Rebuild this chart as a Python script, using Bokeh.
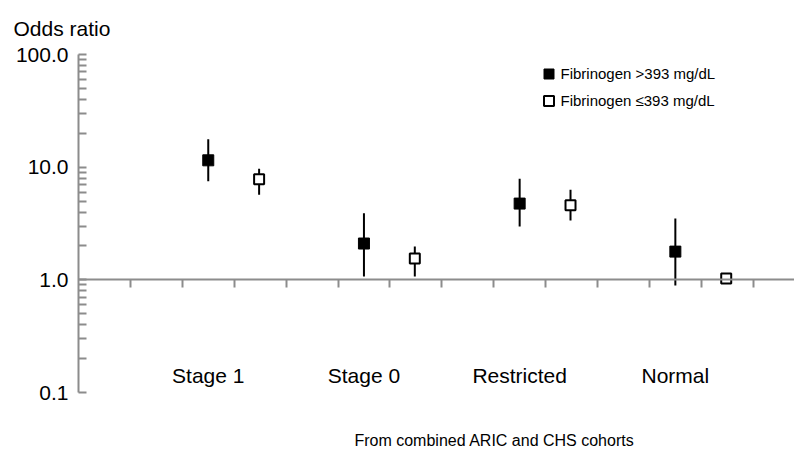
from bokeh.plotting import figure
from bokeh.models import (Range1d, FixedTicker, CustomJSTickFormatter, Label, LabelSet,
                          ColumnDataSource, Legend, LegendItem)
from bokeh.core.properties import value
from bokeh.embed import file_html
from bokeh.resources import INLINE

# ---- data ----
categories = ["Stage 1", "Stage 0", "Restricted", "Normal"]
group_pos = [2.5, 5.5, 8.5, 11.5]
dodge = 0.98

high_or = [11.5, 2.1, 4.75, 1.78]      # Fibrinogen >393 mg/dL
high_lo = [7.5, 1.07, 2.97, 0.89]
high_hi = [17.7, 3.9, 7.9, 3.5]

low_or = [7.8, 1.55, 4.6, 1.03]        # Fibrinogen <=393 mg/dL
low_lo = [5.7, 1.07, 3.36, 0.97]
low_hi = [9.7, 1.98, 6.3, 1.08]

y_ticks = [0.1, 1, 10, 100]
y_minor = [0.2, 0.3, 0.4, 0.5, 0.6, 0.7, 0.8, 0.9,
           2, 3, 4, 5, 6, 7, 8, 9,
           20, 30, 40, 50, 60, 70, 80, 90]
x_ticks = list(range(1, 14))

FONT = "Liberation Sans"
AXC = "#8c8c8c"

W, H = 794, 449
LEFT, TOP, BOTTOM = 78, 54, 392
UNIT = 51.9

# canvas pixel -> data helpers (for text placement)
def px_x(px):
    return (px - LEFT) / UNIT

def py_y(py):
    return 10 ** ((BOTTOM - py) / ((BOTTOM - TOP) / 3.0) - 1)

p = figure(width=W, height=H, x_range=Range1d(0, (W - LEFT) / UNIT), y_range=Range1d(0.1, 100),
           y_axis_type="log", output_backend="svg", toolbar_location=None,
           min_border_left=LEFT, min_border_right=0, min_border_top=TOP,
           min_border_bottom=H - BOTTOM)
p.outline_line_color = None
p.xgrid.visible = False
p.ygrid.visible = False
p.background_fill_color = "white"

ya = p.yaxis[0]
ya.ticker = FixedTicker(ticks=y_ticks, minor_ticks=y_minor)
ya.formatter = CustomJSTickFormatter(code="return tick.toFixed(1);")
ya.major_tick_in = 8
ya.major_tick_out = 0
ya.minor_tick_in = 8
ya.minor_tick_out = 0
ya.axis_line_color = AXC
ya.axis_line_width = 2
ya.major_tick_line_color = AXC
ya.major_tick_line_width = 2
ya.minor_tick_line_color = AXC
ya.minor_tick_line_width = 2
ya.major_label_text_font = FONT
ya.major_label_text_font_size = "21px"
ya.major_label_text_color = "black"
ya.major_label_standoff = 10

xa = p.xaxis[0]
xa.fixed_location = 1
xa.ticker = FixedTicker(ticks=x_ticks)
xa.formatter = CustomJSTickFormatter(code="return '';")
xa.major_tick_in = 0
xa.major_tick_out = 8
xa.minor_tick_in = 0
xa.minor_tick_out = 0
xa.axis_line_color = AXC
xa.axis_line_width = 2
xa.major_tick_line_color = AXC
xa.major_tick_line_width = 2
xa.major_label_text_font_size = "0px"

src_hi = ColumnDataSource(dict(x=group_pos, orv=high_or, lo=high_lo, hi=high_hi))
src_lo = ColumnDataSource(dict(x=[g + dodge for g in group_pos], orv=low_or, lo=low_lo, hi=low_hi))

p.segment(x0="x", y0="lo", x1="x", y1="hi", source=src_hi, line_width=2, line_color="black")
p.segment(x0="x", y0="lo", x1="x", y1="hi", source=src_lo, line_width=2, line_color="black")
r1 = p.scatter("x", "orv", source=src_hi, marker="square", size=11,
               fill_color="black", line_color="black", line_width=1)
r2 = p.scatter("x", "orv", source=src_lo, marker="square", size=10,
               fill_color="white", line_color="black", line_width=2)

legend = Legend(items=[LegendItem(label="Fibrinogen >393 mg/dL", renderers=[r1]),
                       LegendItem(label="Fibrinogen \u2264393 mg/dL", renderers=[r2])],
                location=(457.5, 279), padding=0, margin=0, spacing=2,
                glyph_width=25, glyph_height=25, label_height=25, label_standoff=-3,
                border_line_color=None, background_fill_alpha=0,
                label_text_font=FONT, label_text_font_size="15px", label_text_color="black")
p.add_layout(legend, "center")

cat_src = ColumnDataSource(dict(x=group_pos, y=[py_y(382)] * len(categories), text=categories))
p.add_layout(LabelSet(x="x", y="y", text="text", source=cat_src, text_align="center",
                      text_baseline="alphabetic", text_font=value(FONT),
                      text_font_size=value("21px"), text_color="black"))

p.add_layout(Label(x=px_x(13), y=py_y(28), text="Odds ratio", text_align="left",
                   text_baseline="alphabetic", text_font=FONT, text_font_size="21px",
                   text_color="black"), "above")
p.add_layout(Label(x=px_x(494), y=py_y(440), text="From combined ARIC and CHS cohorts",
                   text_align="center", text_baseline="alphabetic", text_font=FONT,
                   text_font_size="16px", text_color="black"), "below")

open("out.html", "w").write(file_html(p, INLINE))
